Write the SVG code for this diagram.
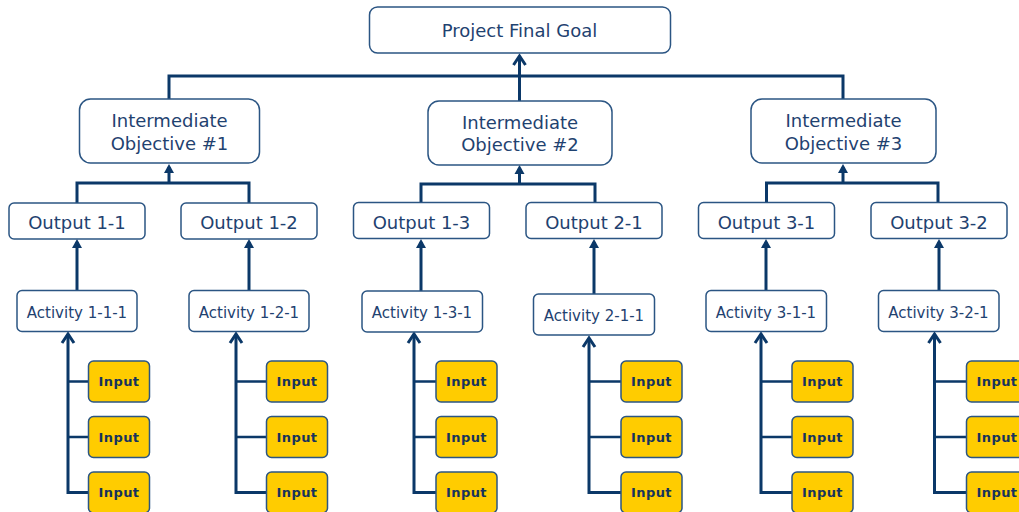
<svg xmlns="http://www.w3.org/2000/svg" width="1019" height="512" viewBox="0 0 1019 512">
<defs>
<style>
.box{fill:#ffffff;stroke:#2b5583;stroke-width:1.5}
.inp{fill:#ffcc00;stroke:#2b5583;stroke-width:1.5}
.t{font-family:"DejaVu Sans","Verdana",sans-serif;fill:#1f4270;text-anchor:middle}
.big{font-size:18px}
.mid{font-size:15px}
.small{font-size:13px;font-weight:bold;fill:#17335c;letter-spacing:0.4px}
.ln{fill:none;stroke:#0b3868;stroke-width:3}
.br{fill:none;stroke:#0b3868;stroke-width:2.5}
.fa{marker-end:url(#filled)}
.oa{marker-end:url(#open)}
</style>
<marker id="filled" markerUnits="userSpaceOnUse" viewBox="-8 -6 12 12" refX="0" refY="0" markerWidth="12" markerHeight="12" orient="auto">
<path d="M-6,-5 L3,0 L-6,5 Z" fill="#0b3868"/>
</marker>
<marker id="open" markerUnits="userSpaceOnUse" viewBox="-12 -8 16 16" refX="0" refY="0" markerWidth="16" markerHeight="16" orient="auto">
<path d="M-9,-6 L0,0 L-9,6" fill="none" stroke="#0b3868" stroke-width="3"/>
</marker>
</defs>

<g id="connectors">
<path class="ln" d="M169,99 V76 H843 V99"/>
<path class="ln oa" d="M519.5,101 V56"/>
<path class="ln" d="M77,203 V183 H249 V203"/>
<path class="ln fa" d="M169,183 V167"/>
<path class="ln" d="M421,203 V184 H595 V203"/>
<path class="ln fa" d="M519.5,184 V168"/>
<path class="ln" d="M766.5,203 V183 H938 V203"/>
<path class="ln fa" d="M843,183 V167"/>
<path class="ln fa" d="M77,290 V242"/>
<path class="ln fa" d="M249,290 V242"/>
<path class="ln fa" d="M421,291 V242"/>
<path class="ln fa" d="M594,294 V242"/>
<path class="ln fa" d="M766,290 V242"/>
<path class="ln fa" d="M939,290 V242"/>
<path class="ln oa" d="M88.5,492.5 H68 V334"/>
<path class="br" d="M68,381.5 H88.5 M68,437 H88.5"/>
<path class="ln oa" d="M266.5,492.5 H236 V334"/>
<path class="br" d="M236,381.5 H266.5 M236,437 H266.5"/>
<path class="ln oa" d="M436,492.5 H414 V334"/>
<path class="br" d="M414,381.5 H436 M414,437 H436"/>
<path class="ln oa" d="M621,492.5 H589 V338"/>
<path class="br" d="M589,381.5 H621 M589,437 H621"/>
<path class="ln oa" d="M792,492.5 H761 V334"/>
<path class="br" d="M761,381.5 H792 M761,437 H792"/>
<path class="ln oa" d="M966.5,492.5 H934.5 V334"/>
<path class="br" d="M934.5,381.5 H966.5 M934.5,437 H966.5"/>
</g>

<g id="goal"><rect class="box" x="369.5" y="7" width="301" height="46" rx="8"/><text class="t big" x="519.5" y="37">Project Final Goal</text></g>

<g id="obj1"><rect class="box" x="79.5" y="99" width="180" height="64" rx="11"/><text class="t big" x="169.5" y="127">Intermediate</text><text class="t big" x="169.5" y="149.5">Objective #1</text></g>
<g id="obj2"><rect class="box" x="428" y="101" width="184" height="64" rx="11"/><text class="t big" x="520" y="128.5">Intermediate</text><text class="t big" x="520" y="151">Objective #2</text></g>
<g id="obj3"><rect class="box" x="751" y="99" width="185" height="64" rx="11"/><text class="t big" x="843.5" y="127">Intermediate</text><text class="t big" x="843.5" y="149.5">Objective #3</text></g>

<g id="out11"><rect class="box" x="9" y="203" width="136" height="36" rx="5"/><text class="t big" x="77" y="228.5">Output 1-1</text></g>
<g id="out12"><rect class="box" x="181" y="203" width="136" height="36" rx="5"/><text class="t big" x="249" y="228.5">Output 1-2</text></g>
<g id="out13"><rect class="box" x="353.5" y="202.5" width="136" height="36" rx="5"/><text class="t big" x="421.5" y="228.5">Output 1-3</text></g>
<g id="out21"><rect class="box" x="526" y="202.5" width="136" height="36" rx="5"/><text class="t big" x="594" y="228.5">Output 2-1</text></g>
<g id="out31"><rect class="box" x="698.5" y="202.5" width="136" height="36" rx="5"/><text class="t big" x="766.5" y="228.5">Output 3-1</text></g>
<g id="out32"><rect class="box" x="871" y="202.5" width="136" height="36" rx="5"/><text class="t big" x="939" y="228.5">Output 3-2</text></g>

<g id="act111"><rect class="box" x="17" y="290.5" width="120" height="41" rx="5"/><text class="t mid" x="77" y="317.5">Activity 1-1-1</text></g>
<g id="act121"><rect class="box" x="189" y="290.5" width="120" height="41" rx="5"/><text class="t mid" x="249" y="317.5">Activity 1-2-1</text></g>
<g id="act131"><rect class="box" x="362" y="291" width="120.5" height="41" rx="5"/><text class="t mid" x="422" y="318">Activity 1-3-1</text></g>
<g id="act211"><rect class="box" x="533.5" y="294" width="121" height="41" rx="5"/><text class="t mid" x="594" y="320.5">Activity 2-1-1</text></g>
<g id="act311"><rect class="box" x="706" y="290.5" width="120.5" height="41" rx="5"/><text class="t mid" x="766" y="317.5">Activity 3-1-1</text></g>
<g id="act321"><rect class="box" x="878.5" y="290.5" width="120.5" height="41" rx="5"/><text class="t mid" x="938.5" y="317.5">Activity 3-2-1</text></g>

<g id="in111a"><rect class="inp" x="88.5" y="361" width="61" height="41" rx="5"/><text class="t small" x="119" y="386">Input</text></g>
<g id="in111b"><rect class="inp" x="88.5" y="416.5" width="61" height="41" rx="5"/><text class="t small" x="119" y="441.5">Input</text></g>
<g id="in111c"><rect class="inp" x="88.5" y="472" width="61" height="41" rx="5"/><text class="t small" x="119" y="497">Input</text></g>

<g id="in121a"><rect class="inp" x="266.5" y="361" width="61" height="41" rx="5"/><text class="t small" x="297" y="386">Input</text></g>
<g id="in121b"><rect class="inp" x="266.5" y="416.5" width="61" height="41" rx="5"/><text class="t small" x="297" y="441.5">Input</text></g>
<g id="in121c"><rect class="inp" x="266.5" y="472" width="61" height="41" rx="5"/><text class="t small" x="297" y="497">Input</text></g>

<g id="in131a"><rect class="inp" x="436" y="361" width="61" height="41" rx="5"/><text class="t small" x="466.5" y="386">Input</text></g>
<g id="in131b"><rect class="inp" x="436" y="416.5" width="61" height="41" rx="5"/><text class="t small" x="466.5" y="441.5">Input</text></g>
<g id="in131c"><rect class="inp" x="436" y="472" width="61" height="41" rx="5"/><text class="t small" x="466.5" y="497">Input</text></g>

<g id="in211a"><rect class="inp" x="621" y="361" width="61" height="41" rx="5"/><text class="t small" x="651.5" y="386">Input</text></g>
<g id="in211b"><rect class="inp" x="621" y="416.5" width="61" height="41" rx="5"/><text class="t small" x="651.5" y="441.5">Input</text></g>
<g id="in211c"><rect class="inp" x="621" y="472" width="61" height="41" rx="5"/><text class="t small" x="651.5" y="497">Input</text></g>

<g id="in311a"><rect class="inp" x="792" y="361" width="61" height="41" rx="5"/><text class="t small" x="822.5" y="386">Input</text></g>
<g id="in311b"><rect class="inp" x="792" y="416.5" width="61" height="41" rx="5"/><text class="t small" x="822.5" y="441.5">Input</text></g>
<g id="in311c"><rect class="inp" x="792" y="472" width="61" height="41" rx="5"/><text class="t small" x="822.5" y="497">Input</text></g>

<g id="in321a"><rect class="inp" x="966.5" y="361" width="61" height="41" rx="5"/><text class="t small" x="997" y="386">Input</text></g>
<g id="in321b"><rect class="inp" x="966.5" y="416.5" width="61" height="41" rx="5"/><text class="t small" x="997" y="441.5">Input</text></g>
<g id="in321c"><rect class="inp" x="966.5" y="472" width="61" height="41" rx="5"/><text class="t small" x="997" y="497">Input</text></g>
</svg>
